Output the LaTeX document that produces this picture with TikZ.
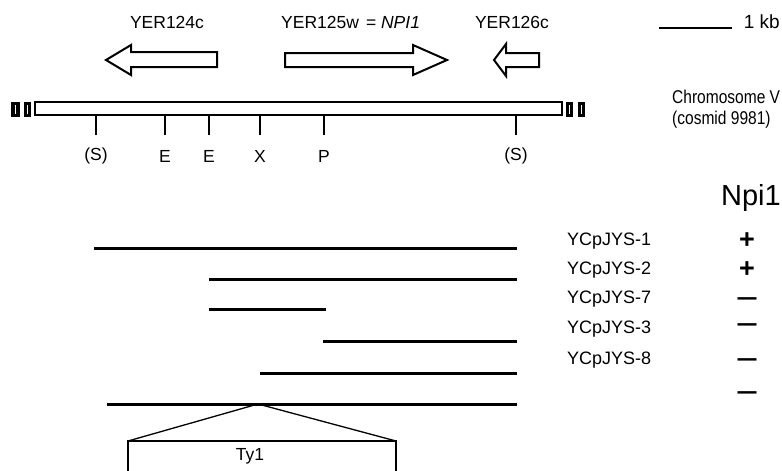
\documentclass[tikz,border=0pt]{standalone}
\usepackage{fontspec}
\setmainfont{Liberation Sans}
\begin{document}
\begin{tikzpicture}[x=1pt,y=-1pt,
  lbl/.style={font=\fontsize{17.5}{19}\selectfont, inner sep=0pt},
  clbl/.style={font=\fontsize{18}{20}\selectfont, inner sep=0pt},
  chrl/.style={font=\fontsize{18.5}{20}\selectfont, inner sep=0pt, xscale=0.84},
  gene/.style={draw, line width=2pt, fill=white, line join=miter},
  clone/.style={line width=3pt},
  cut/.style={line width=2pt},
  plus/.style={font=\fontsize{27}{29}\selectfont\bfseries, inner sep=0pt},
  minus/.style={font=\fontsize{19}{21}\selectfont\bfseries, inner sep=0pt, yscale=1.3},
  endblk/.style={fill=black}]
\useasboundingbox (0,0) rectangle (782,471);

% gene labels
\node[lbl] (g124) at (167,22) {YER124c};
\node[lbl, anchor=west] (g125) at (281,22) {YER125w\hspace{7pt}= \textit{NPI1}};
\node[lbl] (g126) at (512,22) {YER126c};

% scale bar
\coordinate (sb1) at (659,28);
\coordinate (sb2) at (732,28);
\draw[line width=2.2pt] (sb1) -- (sb2);
\node[lbl, font=\fontsize{19}{21}\selectfont, anchor=east] (kb) at (780,22) {1 kb};

% gene arrows
\draw[gene] (217,52) -- (131,52) -- (131,45) -- (106,60) -- (131,75) -- (131,67) -- (217,67) -- cycle;
\draw[gene] (285,53) -- (413,53) -- (413,45) -- (447,60) -- (413,75) -- (413,67) -- (285,67) -- cycle;
\draw[gene] (539,53) -- (506,53) -- (506,44) -- (494,60) -- (506,76) -- (506,67) -- (539,67) -- cycle;

% chromosome bar
\draw[line width=2pt] (35,102) rectangle (562,115);
\foreach \a/\b in {11/20,24/31,566/573,578/585}{
  \fill[endblk] (\a,102) rectangle (\b,117);
  \draw[white, line width=1.2pt] ({(\a+\b)/2},105) -- ({(\a+\b)/2},114);
}

% restriction sites
\foreach \x/\t [count=\i] in {96/(S),165/E,209/E,260/X,324/P,516/(S)}{
  \coordinate (t\i) at (\x,115);
  \coordinate (b\i) at (\x,135);
  \draw[cut] (t\i) -- (b\i);
  \node[lbl] (s\i) at (\x,156) {\t};
}

% chromosome label
\node[chrl, anchor=west] (chr) at (672,97) {Chromosome V};
\node[chrl, anchor=west] (cos) at (672,120) {(cosmid 9981)};
\node[font=\fontsize{29}{31}\selectfont, inner sep=0pt, anchor=east] (npi) at (781,198) {Npi1};

% clones
\foreach \l/\r/\y/\ty/\name/\st/\s/\sy [count=\i] in {
   94/517/248/241/YCpJYS-1/plus/+/241,
   209/517/279/270/YCpJYS-2/plus/+/270,
   209/326/309/299/YCpJYS-7/minus/{—}/302,
   323/517/341/329/YCpJYS-3/minus/{—}/328,
   260/517/373/360/YCpJYS-8/minus/{—}/363}{
  \coordinate (cl\i) at (\l,\y);
  \coordinate (cr\i) at (\r,\y);
  \draw[clone] (cl\i) -- (cr\i);
  \node[clbl, anchor=west] (n\i) at (567,\ty) {\name};
  \node[\st] (p\i) at (747,\sy) {\s};
}
\coordinate (lastl) at (107,404);
\coordinate (lastr) at (517,404);
\coordinate (apex) at (258,404);
\draw[clone] (lastl) -- (lastr);
\node[minus] (plast) at (747,396) {—};

% Ty1 insertion
\coordinate (tyl) at (128,441);
\coordinate (tyr) at (396,441);
\coordinate (tylb) at (128,471);
\coordinate (tyrb) at (396,471);
\draw[line width=1.3pt] (tyl) -- (apex) -- (tyr);
\draw[line width=2.2pt] (tylb) -- (tyl) -- (tyr) -- (tyrb);
\node[lbl] (ty) at (250,456) {Ty1};
\end{tikzpicture}
\end{document}
